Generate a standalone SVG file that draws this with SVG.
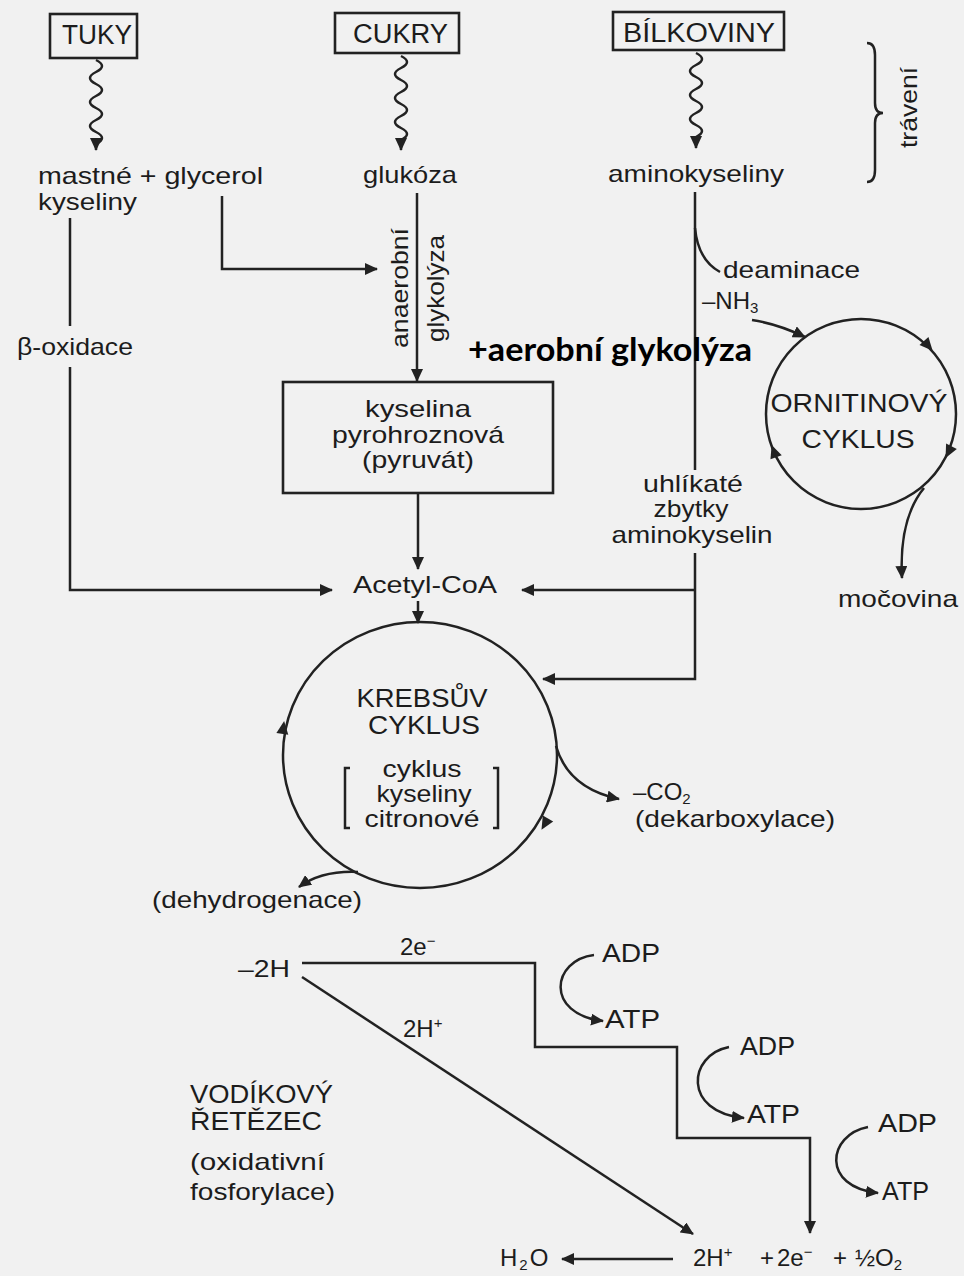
<svg xmlns="http://www.w3.org/2000/svg" xmlns:xlink="http://www.w3.org/1999/xlink" width="964" height="1276" viewBox="0 0 964 1276">
  <style>
    .t { font-family: "Liberation Sans", Arial, Helvetica, sans-serif; font-size: 24px; fill: #1c1c1c; }
    .cap { font-size: 25px; }
    .box { font-size: 27px; }
    .sm { font-size: 15px; }
    .mid { text-anchor: middle; }
    .ln { stroke: #222; stroke-width: 2.5; fill: none; }
    .frame { stroke: #222; stroke-width: 2.6; fill: none; }
    .bold { font-family: Lato, "Open Sans", "Liberation Sans", sans-serif; font-weight: 700; font-size: 33px; fill: #000; }
  </style>
  <defs>
    <marker id="arr" viewBox="0 0 13 12" refX="12" refY="6" markerWidth="13" markerHeight="12" markerUnits="userSpaceOnUse" orient="auto">
      <path d="M0,0 L13,6 L0,12 z" fill="#222"/>
    </marker>
    <!-- arrowhead with its tip at the origin, pointing along +x -->
    <path id="ah" d="M1,0 L-12,-6 L-12,6 z" fill="#222"/>
  </defs>

  <rect width="964" height="1276" fill="#f1f1f1"/>

  <!-- connectors -->
  <g id="connectors">
    <!-- digestion (wavy) -->
    <path class="ln" stroke-width="2.7" marker-end="url(#arr)" d="M96,60 q12,6 0,12 t0,12 t0,12 t0,12 t0,12 t0,12 t0,12 l0,6"/>
    <path class="ln" stroke-width="2.7" marker-end="url(#arr)" d="M401,56 q12,6 0,12 t0,12 t0,12 t0,12 t0,12 t0,12 t0,12 l0,10"/>
    <path class="ln" stroke-width="2.7" marker-end="url(#arr)" d="M696,53 q12,6 0,12 t0,12 t0,12 t0,12 t0,12 t0,12 t0,12 l0,11"/>

    <!-- glucose -> pyruvate -->
    <path class="ln" marker-end="url(#arr)" d="M417,193 V381"/>
    <!-- glycerol -> glycolysis -->
    <path class="ln" marker-end="url(#arr)" d="M222,196 V269 H377"/>
    <!-- fatty acids -> acetyl-CoA -->
    <path class="ln" d="M70,218 V326"/>
    <path class="ln" marker-end="url(#arr)" d="M70,367 V590 H332"/>
    <!-- pyruvate -> acetyl-CoA -->
    <path class="ln" marker-end="url(#arr)" d="M418,493 V569"/>
    <!-- acetyl-CoA -> Krebs cycle -->
    <path class="ln" marker-end="url(#arr)" d="M418,601 V623"/>

    <!-- amino acids -->
    <path class="ln" d="M695,192 V470"/>
    <path class="ln" marker-end="url(#arr)" d="M695,553 V679 H543"/>
    <path class="ln" marker-end="url(#arr)" d="M695,590 H522"/>
    <!-- deamination -->
    <path class="ln" d="M695,228 Q698,260 720,272"/>
    <path class="ln" marker-end="url(#arr)" d="M752,320 Q778,324 805,337"/>
    <!-- ornithine cycle -> urea -->
    <path class="ln" marker-end="url(#arr)" d="M924,488 C906,510 900,540 902,578"/>

    <!-- Krebs cycle outputs -->
    <path class="ln" marker-end="url(#arr)" d="M556,746 C564,774 586,792 619,799"/>
    <path class="ln" marker-end="url(#arr)" d="M358,872 C335,871 314,876 299,887"/>

    <!-- hydrogen chain -->
    <path class="ln" marker-end="url(#arr)" d="M302,963 H535 V1047 H677 V1138 H810 V1233"/>
    <path class="ln" marker-end="url(#arr)" d="M302,977 L693,1234"/>
    <path class="ln" marker-end="url(#arr)" d="M673,1259 H562"/>

    <!-- ADP -> ATP -->
    <path class="ln" marker-end="url(#arr)" d="M594,955 C552,960 544,1014 603,1021"/>
    <path class="ln" marker-end="url(#arr)" d="M729,1047 C688,1055 682,1112 744,1118"/>
    <path class="ln" marker-end="url(#arr)" d="M868,1127 C827,1135 821,1187 878,1193"/>
  </g>

  <!-- sources -->
  <g id="tuky">
    <rect class="frame" x="50" y="14" width="87" height="44"/>
    <text class="t box" x="62" y="44" textLength="70" lengthAdjust="spacingAndGlyphs">TUKY</text>
  </g>
  <g id="cukry">
    <rect class="frame" x="335" y="13" width="124" height="40"/>
    <text class="t box" x="353" y="43" textLength="95" lengthAdjust="spacingAndGlyphs">CUKRY</text>
  </g>
  <g id="bilkoviny">
    <rect class="frame" x="613" y="12" width="171" height="38"/>
    <text class="t box" x="623" y="42" textLength="152" lengthAdjust="spacingAndGlyphs">BÍLKOVINY</text>
  </g>

  <!-- digestion products -->
  <g id="mastne-kyseliny">
    <text class="t" x="38" y="184" textLength="225" lengthAdjust="spacingAndGlyphs">mastné + glycerol</text>
    <text class="t" x="38" y="210" textLength="99" lengthAdjust="spacingAndGlyphs">kyseliny</text>
  </g>
  <g id="glukoza">
    <text class="t" x="363" y="183" textLength="94" lengthAdjust="spacingAndGlyphs">glukóza</text>
  </g>
  <g id="aminokyseliny">
    <text class="t" x="608" y="182" textLength="176" lengthAdjust="spacingAndGlyphs">aminokyseliny</text>
  </g>
  <g id="traveni">
    <path class="ln" d="M867,43 Q875,43 875,55 L875,103 Q875,113 883,113 Q875,113 875,123 L875,170 Q875,182 867,182"/>
    <text class="t" transform="translate(917,148) rotate(-90)" x="0" y="0" textLength="81" lengthAdjust="spacingAndGlyphs">trávení</text>
  </g>

  <!-- process labels -->
  <g id="beta-oxidace">
    <text class="t" x="17" y="355" textLength="116" lengthAdjust="spacingAndGlyphs">β-oxidace</text>
  </g>
  <g id="glykolyza">
    <text class="t" transform="translate(408,348) rotate(-90)" x="0" y="0" textLength="120" lengthAdjust="spacingAndGlyphs">anaerobní</text>
    <text class="t" transform="translate(444,342) rotate(-90)" x="0" y="0" textLength="107" lengthAdjust="spacingAndGlyphs">glykolýza</text>
  </g>
  <g id="aerobni">
    <text class="bold" x="468" y="361" textLength="284" lengthAdjust="spacingAndGlyphs">+aerobní glykolýza</text>
  </g>
  <g id="deaminace">
    <text class="t" x="723" y="278" textLength="137" lengthAdjust="spacingAndGlyphs">deaminace</text>
    <text class="t" x="702" y="309">–NH<tspan class="sm" dy="4">3</tspan></text>
  </g>

  <!-- pyruvate -->
  <g id="pyruvat">
    <rect class="frame" x="283" y="382" width="270" height="111"/>
    <text class="t mid" x="418" y="417" textLength="106" lengthAdjust="spacingAndGlyphs">kyselina</text>
    <text class="t mid" x="418" y="443" textLength="172" lengthAdjust="spacingAndGlyphs">pyrohroznová</text>
    <text class="t mid" x="418" y="468" textLength="112" lengthAdjust="spacingAndGlyphs">(pyruvát)</text>
  </g>

  <g id="acetyl-coa">
    <text class="t" x="353" y="593" textLength="144" lengthAdjust="spacingAndGlyphs">Acetyl-CoA</text>
  </g>

  <g id="uhlikate-zbytky">
    <text class="t mid" x="693" y="492" textLength="100" lengthAdjust="spacingAndGlyphs">uhlíkaté</text>
    <text class="t mid" x="691" y="517" textLength="75" lengthAdjust="spacingAndGlyphs">zbytky</text>
    <text class="t mid" x="692" y="543" textLength="161" lengthAdjust="spacingAndGlyphs">aminokyselin</text>
  </g>

  <!-- ornithine cycle -->
  <g id="ornitinovy-cyklus">
    <circle class="ln" cx="861" cy="414" r="95"/>
    <use xlink:href="#ah" transform="translate(932,350) rotate(48)"/>
    <use xlink:href="#ah" transform="translate(946,457) rotate(117)"/>
    <use xlink:href="#ah" transform="translate(772,446) rotate(-110)"/>
    <text class="t cap mid" x="859" y="412" textLength="177" lengthAdjust="spacingAndGlyphs">ORNITINOVÝ</text>
    <text class="t cap mid" x="858" y="448" textLength="113" lengthAdjust="spacingAndGlyphs">CYKLUS</text>
  </g>
  <g id="mocovina">
    <text class="t" x="838" y="607" textLength="120" lengthAdjust="spacingAndGlyphs">močovina</text>
  </g>

  <!-- Krebs cycle -->
  <g id="krebsuv-cyklus">
    <ellipse class="ln" cx="420" cy="755" rx="137" ry="133"/>
    <use xlink:href="#ah" transform="translate(284,722) rotate(-82)"/>
    <use xlink:href="#ah" transform="translate(542,829) rotate(120)"/>
    <text class="t cap mid" x="422" y="707" textLength="131" lengthAdjust="spacingAndGlyphs">KREBSŮV</text>
    <text class="t cap mid" x="424" y="734" textLength="112" lengthAdjust="spacingAndGlyphs">CYKLUS</text>
    <text class="t mid" x="422" y="777" textLength="79" lengthAdjust="spacingAndGlyphs">cyklus</text>
    <text class="t mid" x="424" y="802" textLength="95" lengthAdjust="spacingAndGlyphs">kyseliny</text>
    <text class="t mid" x="422" y="827" textLength="115" lengthAdjust="spacingAndGlyphs">citronové</text>
    <path class="ln" stroke-width="1.6" d="M350,768 H345 V828 H350"/>
    <path class="ln" stroke-width="1.6" d="M493,768 H498 V828 H493"/>
  </g>
  <g id="dekarboxylace">
    <text class="t" x="633" y="800">–CO<tspan class="sm" dy="4">2</tspan></text>
    <text class="t" x="635" y="827" textLength="200" lengthAdjust="spacingAndGlyphs">(dekarboxylace)</text>
  </g>
  <g id="dehydrogenace">
    <text class="t" x="152" y="908" textLength="210" lengthAdjust="spacingAndGlyphs">(dehydrogenace)</text>
  </g>

  <!-- hydrogen chain -->
  <g id="minus-2h">
    <text class="t" x="238" y="977" textLength="52" lengthAdjust="spacingAndGlyphs">–2H</text>
    <text class="t" x="400" y="955">2e<tspan class="sm" dy="-9">−</tspan></text>
    <text class="t" x="403" y="1037">2H<tspan class="sm" dy="-9">+</tspan></text>
  </g>
  <g id="atp-1">
    <text class="t cap" x="602" y="962" textLength="58" lengthAdjust="spacingAndGlyphs">ADP</text>
    <text class="t cap" x="605" y="1028" textLength="55" lengthAdjust="spacingAndGlyphs">ATP</text>
  </g>
  <g id="atp-2">
    <text class="t cap" x="740" y="1055" textLength="55" lengthAdjust="spacingAndGlyphs">ADP</text>
    <text class="t cap" x="747" y="1123" textLength="53" lengthAdjust="spacingAndGlyphs">ATP</text>
  </g>
  <g id="atp-3">
    <text class="t cap" x="878" y="1132" textLength="59" lengthAdjust="spacingAndGlyphs">ADP</text>
    <text class="t cap" x="882" y="1200" textLength="47" lengthAdjust="spacingAndGlyphs">ATP</text>
  </g>
  <g id="vodikovy-retezec">
    <text class="t cap" x="190" y="1103" textLength="143" lengthAdjust="spacingAndGlyphs">VODÍKOVÝ</text>
    <text class="t cap" x="190" y="1130" textLength="132" lengthAdjust="spacingAndGlyphs">ŘETĚZEC</text>
    <text class="t" x="190" y="1170" textLength="135" lengthAdjust="spacingAndGlyphs">(oxidativní</text>
    <text class="t" x="190" y="1200" textLength="145" lengthAdjust="spacingAndGlyphs">fosforylace)</text>
  </g>
  <g id="voda">
    <text class="t" x="500" y="1266" letter-spacing="2">H<tspan class="sm" dy="4">2</tspan><tspan dy="-4">O</tspan></text>
  </g>
  <g id="reakce">
    <text class="t" x="693" y="1266">2H<tspan class="sm" dy="-9">+</tspan></text>
    <text class="t" x="760" y="1266">+</text>
    <text class="t" x="777" y="1266">2e<tspan class="sm" dy="-9">−</tspan></text>
    <text class="t" x="833" y="1266">+</text>
    <text class="t" x="855" y="1266">½O<tspan class="sm" dy="4">2</tspan></text>
  </g>
</svg>
